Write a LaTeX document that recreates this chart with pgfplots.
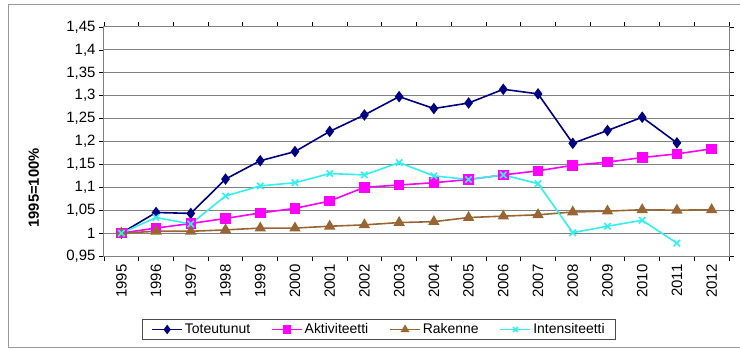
\documentclass[border=0pt]{standalone}
\usepackage{pgfplots}
\pgfplotsset{compat=1.18}
\usepackage{fontspec}
\setmainfont{Liberation Sans}
\definecolor{cNavy}{RGB}{0,0,128}
\definecolor{cMag}{RGB}{255,0,255}
\definecolor{cBrown}{RGB}{153,102,51}
\definecolor{cCyan}{RGB}{51,240,240}
\definecolor{cGrid}{RGB}{128,128,128}
\begin{document}
\begin{tikzpicture}[x=1bp,y=1bp]
\useasboundingbox (-104,-93) rectangle (636,256);
\draw[cGrid!80, line width=1bp] (640,252) -- (-95,252) -- (-95,-91) -- (640,-91);
\begin{axis}[
  at={(0,0)}, anchor=south west,
  scale only axis, width=625bp, height=229bp,
  xmin=-0.5, xmax=17.5, ymin=0.95, ymax=1.45,
  xtick={0,...,17},
  xticklabels={1995,1996,1997,1998,1999,2000,2001,2002,2003,2004,2005,2006,2007,2008,2009,2010,2011,2012},
  x tick label style={rotate=90, anchor=east, font=\fontsize{15}{16}\selectfont},
  major x tick style={draw=none},
  minor xtick={-0.5,0.5,...,17.5},
  minor tick length=5bp,
  ytick={0.95,1,1.05,1.1,1.15,1.2,1.25,1.3,1.35,1.4,1.45},
  yticklabels={{0,95},1,{1,05},{1,1},{1,15},{1,2},{1,25},{1,3},{1,35},{1,4},{1,45}},
  y tick label style={font=\fontsize{15}{16}\selectfont},
  major tick length=5bp,
  tick align=outside,
  ymajorgrids, grid style={cGrid, line width=1bp},
  axis line style={cGrid, line width=1bp},
  tick style={black, line width=0.8bp},
  ylabel={\bfseries 1995=100\%},
  ylabel style={font=\fontsize{14.8}{16}\selectfont, at={(axis description cs:-0.0984,0.297)}},
  legend columns=4,
  legend style={at={(axis description cs:0.4400,-0.3210)}, anchor=center, draw=black!70, line width=0.8bp, font=\fontsize{14}{15}\selectfont, inner xsep=9bp, inner ysep=2.5bp,
    /tikz/every even column/.append style={column sep=19bp},
    /tikz/every odd column/.append style={column sep=0bp}},
  legend image code/.code={\draw[mark repeat=2,mark phase=2,mark size=3.5bp] plot coordinates {(0bp,0bp) (15bp,0bp) (30bp,0bp)};},
  every axis plot/.append style={line width=1.6bp},
]
\addplot[cNavy, mark=diamond*, mark size=4.5bp, mark options={solid}] coordinates {
(0,1.000) (1,1.045) (2,1.043) (3,1.118) (4,1.158) (5,1.178) (6,1.222) (7,1.258) (8,1.298) (9,1.272) (10,1.284) (11,1.314) (12,1.304) (13,1.196) (14,1.224) (15,1.253) (16,1.197)};
\addlegendentry{Toteutunut}
\addplot[cMag, mark=square*, mark size=4.5bp] coordinates {
(0,1.000) (1,1.011) (2,1.021) (3,1.032) (4,1.044) (5,1.054) (6,1.070) (7,1.100) (8,1.105) (9,1.110) (10,1.117) (11,1.127) (12,1.136) (13,1.148) (14,1.155) (15,1.165) (16,1.173) (17,1.184)};
\addlegendentry{Aktiviteetti}
\addplot[cBrown, mark=triangle*, mark size=5bp] coordinates {
(0,1.000) (1,1.004) (2,1.004) (3,1.007) (4,1.011) (5,1.011) (6,1.015) (7,1.018) (8,1.023) (9,1.025) (10,1.034) (11,1.037) (12,1.040) (13,1.046) (14,1.048) (15,1.051) (16,1.050) (17,1.051)};
\addlegendentry{Rakenne}
\addplot[cCyan, mark=x, mark size=4.5bp] coordinates {
(0,1.000) (1,1.034) (2,1.020) (3,1.081) (4,1.103) (5,1.110) (6,1.130) (7,1.127) (8,1.154) (9,1.125) (10,1.117) (11,1.127) (12,1.108) (13,1.001) (14,1.015) (15,1.028) (16,0.978)};
\addlegendentry{Intensiteetti}
\end{axis}
\end{tikzpicture}
\end{document}
